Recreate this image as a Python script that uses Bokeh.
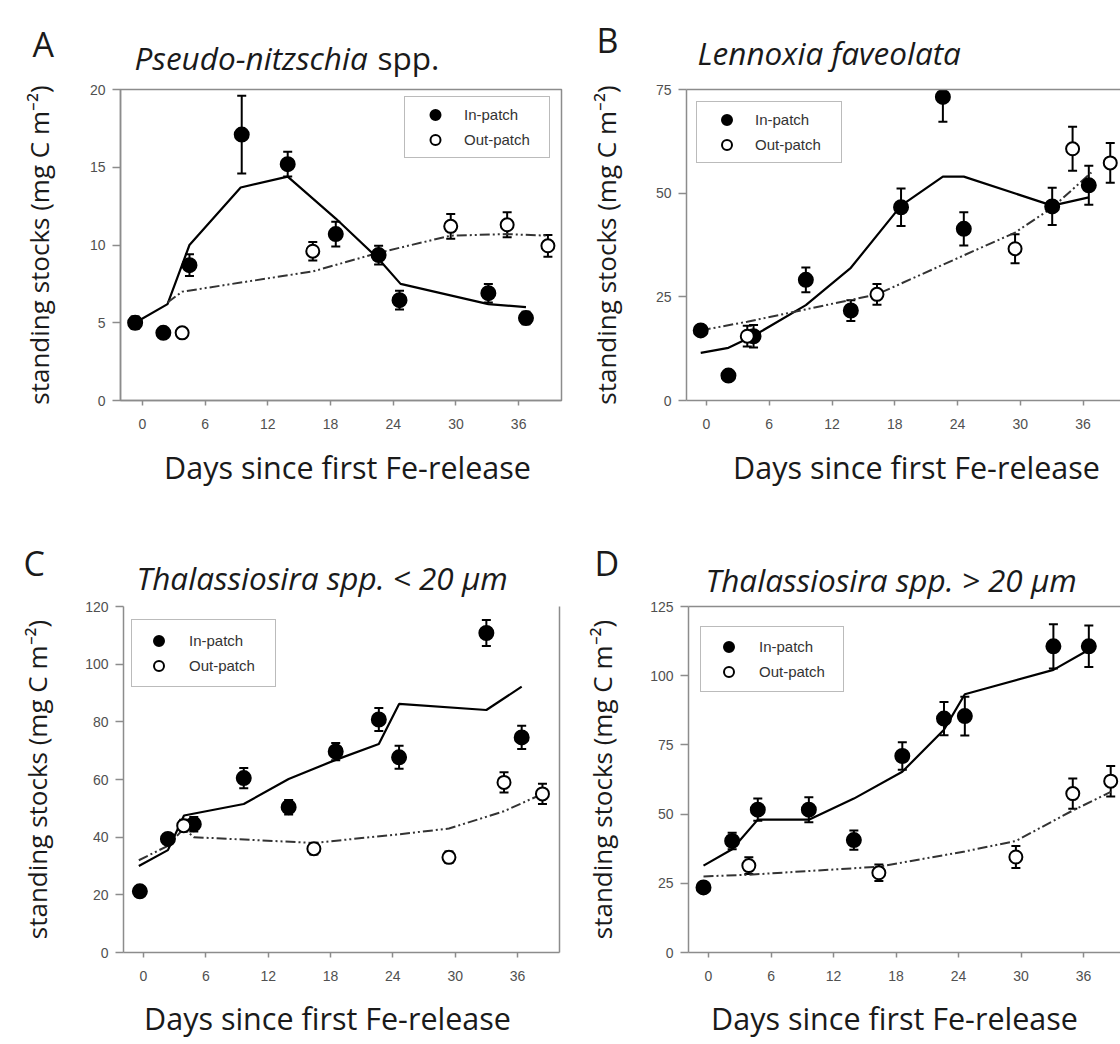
import numpy as np
from bokeh.plotting import figure
from bokeh.models import (ColumnDataSource, Whisker, TeeHead, Legend, LegendItem,
                          Label, FixedTicker, LinearAxis, Range1d)
from bokeh.layouts import column, row
from bokeh.embed import file_html
from bokeh.resources import INLINE

# ---------------------------------------------------------------- data
DAY_TICKS = [0, 6, 12, 18, 24, 30, 36]

# A: Pseudo-nitzschia spp.
a_in_day = [-0.7, 2.0, 4.5, 9.5, 13.9, 18.5, 22.6, 24.6, 33.1, 36.7]
a_in_val = [5.0, 4.35, 8.7, 17.1, 15.2, 10.7, 9.35, 6.45, 6.9, 5.3]
a_in_err = [0.4, 0.3, 0.7, 2.5, 0.8, 0.8, 0.6, 0.6, 0.6, 0.4]
a_out_day = [3.8, 16.3, 29.5, 34.9, 38.8]
a_out_val = [4.35, 9.6, 11.2, 11.3, 9.95]
a_out_err = [0.3, 0.6, 0.8, 0.8, 0.7]
a_in_fit_day = [-0.7, 2.4, 4.5, 9.4, 13.9, 18.5, 22.6, 24.7, 33.1, 36.7]
a_in_fit_val = [5.0, 6.2, 10.0, 13.7, 14.4, 11.7, 9.1, 7.5, 6.2, 6.0]
a_out_fit_day = [2.4, 3.8, 16.3, 22.6, 29.5, 34.9, 38.8]
a_out_fit_val = [6.3, 7.0, 8.3, 9.5, 10.6, 10.7, 10.6]
a_yticks = [0, 5, 10, 15, 20]

# B: Lennoxia faveolata
b_in_day = [-0.55, 2.1, 4.5, 9.5, 13.8, 18.6, 22.6, 24.6, 33.05, 36.55]
b_in_val = [16.9, 6.0, 15.5, 29.1, 21.7, 46.6, 73.2, 41.4, 46.8, 51.9]
b_in_err = [1.0, 0.8, 2.7, 3.0, 2.5, 4.5, 6.0, 4.0, 4.5, 4.7]
b_out_day = [3.9, 16.3, 29.5, 35.0, 38.6]
b_out_val = [15.5, 25.6, 36.6, 60.7, 57.3]
b_out_err = [2.5, 2.5, 3.5, 5.3, 4.8]
b_in_fit_day = [-0.55, 2.1, 4.5, 9.5, 13.8, 18.6, 22.6, 24.6, 33.05, 36.55]
b_in_fit_val = [11.5, 12.7, 15.6, 23.0, 32.0, 47.0, 54.0, 54.0, 47.0, 49.0]
b_out_fit_day = [-0.55, 3.9, 16.3, 24.6, 29.5, 33.05, 36.8]
b_out_fit_val = [16.9, 19.0, 25.6, 35.0, 40.5, 46.5, 55.0]
b_yticks = [0, 25, 50, 75]

# C: Thalassiosira spp. < 20 um
c_in_day = [-0.35, 2.35, 4.84, 9.65, 13.97, 18.5, 22.65, 24.6, 33.0, 36.4]
c_in_val = [21.2, 39.4, 44.5, 60.5, 50.4, 69.7, 80.8, 67.7, 110.8, 74.6]
c_in_err = [1.0, 1.5, 2.5, 3.5, 2.5, 3.0, 4.0, 4.0, 4.5, 4.0]
c_out_day = [3.87, 16.4, 29.4, 34.7, 38.4]
c_out_val = [44.0, 36.0, 33.0, 59.0, 55.0]
c_out_err = [2.0, 2.0, 2.0, 3.5, 3.5]
c_in_fit_day = [-0.45, 2.35, 3.9, 9.65, 13.97, 18.5, 22.65, 24.6, 33.0, 36.4]
c_in_fit_val = [30.0, 35.5, 47.5, 51.5, 60.2, 66.8, 72.3, 86.2, 84.1, 92.2]
c_out_fit_day = [-0.45, 2.35, 3.87, 4.84, 16.4, 24.6, 29.4, 34.7, 38.4]
c_out_fit_val = [32.0, 37.0, 43.0, 40.0, 38.0, 41.0, 43.0, 49.0, 55.0]
c_yticks = [0, 20, 40, 60, 80, 100, 120]

# D: Thalassiosira spp. > 20 um
d_in_day = [-0.48, 2.27, 4.73, 9.63, 13.95, 18.6, 22.6, 24.6, 33.1, 36.5]
d_in_val = [23.5, 40.3, 51.6, 51.6, 40.6, 71.0, 84.5, 85.4, 110.6, 110.6]
d_in_err = [1.5, 3.0, 4.0, 4.5, 3.5, 5.0, 6.0, 7.0, 8.0, 7.5]
d_out_day = [3.87, 16.35, 29.5, 34.96, 38.6]
d_out_val = [31.4, 28.8, 34.5, 57.4, 61.9]
d_out_err = [3.0, 3.0, 4.0, 5.5, 5.5]
d_in_fit_day = [-0.48, 2.27, 4.73, 9.63, 13.95, 18.6, 22.6, 24.6, 33.1, 36.5]
d_in_fit_val = [31.4, 37.3, 48.0, 48.0, 55.6, 65.3, 80.5, 93.3, 102.1, 109.4]
d_out_fit_day = [-0.48, 3.87, 16.35, 24.6, 29.5, 34.96, 38.6]
d_out_fit_val = [27.5, 28.1, 31.0, 36.5, 40.3, 51.3, 58.0]
d_yticks = [0, 25, 50, 75, 100, 125]

LEGEND_LABELS = ["In-patch", "Out-patch"]
X_LABEL = "Days since first Fe-release"
Y_LABEL = "standing stocks (mg C m\u207b\u00b2)"

# ---------------------------------------------------------------- style
LABEL_FONT = "Open Sans"
TICK_FONT = "Liberation Sans"
EDGE = "#8c8c8c"
INK = "#1a1a1a"
PAGE_W = 1120

# vertical bands of the page (pixels)
HEAD_H = 83        # letters and headings of A, B
ROW_H = 357        # plots A, B
MID_H = 160        # axis titles of A, B; letters and headings of C, D
ROW2_H = 392       # plots C, D
FOOT_H = 52        # axis titles of C, D


def panel(d, geom):
    p = figure(width=geom["w"], height=geom["h"],
               x_range=Range1d(*geom["xr"]), y_range=Range1d(0, geom["ymax"]),
               output_backend="svg", toolbar_location=None,
               min_border_left=geom["bl"], min_border_right=geom["br"],
               min_border_top=6, min_border_bottom=40,
               background_fill_color="white", border_fill_color="white")
    p.xgrid.visible = False
    p.ygrid.visible = False
    p.outline_line_color = EDGE if geom["outline"] else None
    p.outline_line_width = 1.5

    for ax, ticks, tout, stand in ((p.xaxis, DAY_TICKS, 5, 13), (p.yaxis, d["yticks"], 8, 7)):
        ax.ticker = FixedTicker(ticks=ticks)
        ax.axis_line_color = EDGE
        ax.axis_line_width = 1.5
        ax.major_tick_line_color = EDGE
        ax.major_tick_line_width = 1.5
        ax.major_tick_out = tout
        ax.major_tick_in = 0
        ax.minor_tick_out = 0
        ax.minor_tick_in = 0
        ax.major_label_standoff = stand
        ax.major_label_text_font = TICK_FONT
        ax.major_label_text_font_size = "14px"
        ax.major_label_text_color = "#505050"

    p.yaxis.axis_label = Y_LABEL
    p.yaxis.axis_label_text_font = LABEL_FONT
    p.yaxis.axis_label_text_font_size = "26px"
    p.yaxis.axis_label_text_font_style = "normal"
    p.yaxis.axis_label_text_color = INK
    p.yaxis.axis_label_standoff = geom["ylab_standoff"]

    # remaining frame edges drawn as bare axis lines
    for side in geom["edges"]:
        ax = LinearAxis(ticker=FixedTicker(ticks=[]), axis_line_color=EDGE,
                        axis_line_width=1.5, major_tick_out=0, major_tick_in=0,
                        minor_tick_out=0, minor_tick_in=0, major_label_standoff=0,
                        major_label_text_font_size="0px")
        p.add_layout(ax, side)

    # fitted curves
    p.line(d["in_fit_day"], d["in_fit_val"], line_color="black", line_width=2.2)
    p.line(d["out_fit_day"], d["out_fit_val"], line_color="#333333", line_width=2,
           line_dash="10 3 2 3 2 3")

    # error bars and observations
    rends = []
    for key, fill, size in (("in", "black", 14), ("out", "white", 13)):
        day = np.array(d[key + "_day"])
        val = np.array(d[key + "_val"])
        err = np.array(d[key + "_err"])
        src = ColumnDataSource(dict(day=day, val=val, lo=val - err, hi=val + err))
        wk = Whisker(source=src, base="day", lower="lo", upper="hi",
                     line_color="black", line_width=2, level="underlay",
                     upper_head=TeeHead(size=9, line_width=2, line_color="black"),
                     lower_head=TeeHead(size=9, line_width=2, line_color="black"))
        p.add_layout(wk)
        r = p.scatter("day", "val", source=src, marker="circle", size=size,
                      fill_color=fill, line_color="black", line_width=2)
        rends.append(r)

    pad, gw, ls, lw, lx, ly = geom["legend"]
    legend = Legend(items=[LegendItem(label=LEGEND_LABELS[0], renderers=[rends[0]]),
                           LegendItem(label=LEGEND_LABELS[1], renderers=[rends[1]])],
                    location=(lx, ly), padding=pad, margin=0,
                    glyph_width=gw, glyph_height=25, spacing=0,
                    label_standoff=ls, label_width=lw, label_height=20,
                    label_text_font=TICK_FONT, label_text_font_size="15px",
                    label_text_color="#333333",
                    border_line_color="#777777", border_line_width=1,
                    background_fill_color="white", background_fill_alpha=1)
    p.add_layout(legend, "center")
    return p


def band(height, texts):
    """A text-only strip spanning the page; coordinates are pixels from its top-left."""
    s = figure(width=PAGE_W, height=height, x_range=Range1d(0, PAGE_W),
               y_range=Range1d(height, 0), x_axis_type=None, y_axis_type=None,
               output_backend="svg", toolbar_location=None,
               min_border_left=0, min_border_right=0, min_border_top=0,
               min_border_bottom=0, outline_line_color=None,
               background_fill_color="white", border_fill_color="white")
    s.xgrid.visible = False
    s.ygrid.visible = False
    for text, x, y, size, style, align in texts:
        s.add_layout(Label(x=x, y=y, text=text, text_font=LABEL_FONT,
                           text_font_size=size, text_font_style=style,
                           text_color=INK, text_align=align,
                           text_baseline="alphabetic"))
    return s


def pack(prefix):
    g = globals()
    return {k: g[f"{prefix}_{k}"] for k in
            ("in_day", "in_val", "in_err", "out_day", "out_val", "out_err",
             "in_fit_day", "in_fit_val", "out_fit_day", "out_fit_val", "yticks")}


geom_a = dict(w=575, h=ROW_H, bl=120, br=14, xr=(-2.1, 40.1), ymax=20,
              outline=True, edges=[], ylab_standoff=30,
              legend=(5, 50, 4, 80, 284, 242))
geom_b = dict(w=545, h=ROW_H, bl=111, br=0, xr=(-1.91, 39.58), ymax=75,
              outline=False, edges=["above"], ylab_standoff=29,
              legend=(5, 49, 4, 81, 10, 237))
geom_c = dict(w=575, h=ROW2_H, bl=123, br=16, xr=(-1.925, 40.04), ymax=120,
              outline=False, edges=["right"], ylab_standoff=27,
              legend=(8, 37, 12, 78, 8, 265))
geom_d = dict(w=545, h=ROW2_H, bl=113, br=0, xr=(-1.92, 39.54), ymax=125,
              outline=False, edges=["above"], ylab_standoff=27,
              legend=(7, 41, 10, 77, 12, 260))

TITLE_PX = "31.5px"
LETTER_PX = "34px"
XLAB_PX = "30.5px"

head = band(HEAD_H, [
    ("A", 32, 43, LETTER_PX, "normal", "left"),
    ("Pseudo-nitzschia", 134, 57, TITLE_PX, "italic", "left"),
    ("spp.", 377, 57, TITLE_PX, "normal", "left"),
    ("B", 596, 39, LETTER_PX, "normal", "left"),
    ("Lennoxia faveolata", 697, 52, TITLE_PX, "italic", "left"),
])
mid = band(MID_H, [
    (X_LABEL, 347, 26, XLAB_PX, "normal", "center"),
    (X_LABEL, 916, 26, XLAB_PX, "normal", "center"),
    ("C", 23, 122, LETTER_PX, "normal", "left"),
    ("Thalassiosira spp. < 20 \u00b5m", 136, 137, TITLE_PX, "italic", "left"),
    ("D", 594, 122, LETTER_PX, "normal", "left"),
    ("Thalassiosira spp. > 20 \u00b5m", 705, 139, TITLE_PX, "italic", "left"),
])
foot = band(FOOT_H, [
    (X_LABEL, 327, 25, XLAB_PX, "normal", "center"),
    (X_LABEL, 894, 25, XLAB_PX, "normal", "center"),
])

pa = panel(pack("a"), geom_a)
pb = panel(pack("b"), geom_b)
pc = panel(pack("c"), geom_c)
pd_ = panel(pack("d"), geom_d)

layout = column(head, row(pa, pb), mid, row(pc, pd_), foot)
open("out.html", "w").write(file_html(layout, INLINE))
